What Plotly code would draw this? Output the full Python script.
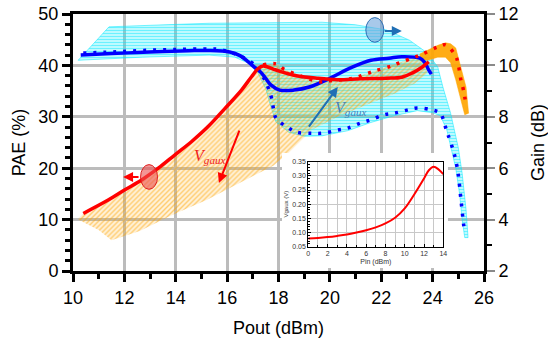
import plotly.graph_objects as go

# ---------------- data ----------------
# Gain fan envelope (Pout dBm, Gain dB) - outline of the family of gain curves
gain_fan_x = [10.2, 10.8, 11.4, 13.0, 15.3, 17.5, 19.7, 21.0, 22.2, 23.1, 23.8, 24.2, 24.4, 24.7, 25.0, 25.15, 25.3, 25.38,
              25.25, 25.15, 25.05, 24.9, 24.75, 24.55, 24.3, 24.0, 23.4, 22.5, 21.6, 20.7, 19.7, 19.0, 18.4, 17.9, 17.7,
              17.5, 17.2, 16.8, 16.3, 15.3, 12.7, 10.2]
gain_fan_y = [10.20, 10.86, 11.50, 11.56, 11.64, 11.66, 11.68, 11.58, 11.38, 10.98, 10.48, 9.94, 9.16, 8.14, 6.80, 5.80, 4.40, 3.30,
              3.30, 4.00, 5.00, 6.00, 6.70, 7.50, 8.04, 8.16, 8.24, 8.04, 7.78, 7.46, 7.26, 7.24, 7.40, 7.80, 8.40,
              9.10, 9.70, 10.10, 10.32, 10.40, 10.32, 10.20]

# Gain at optimum Vgaux (thick blue)
gain_opt_x = [10.3, 11.5, 12.5, 13.5, 14.5, 15.3, 16.1, 16.5, 16.8, 17.05, 17.3, 17.5, 17.7, 18.05, 18.6, 19.2, 20.0, 20.8,
              21.6, 22.3, 22.8, 23.5, 23.7, 23.85, 23.95]
gain_opt_y = [10.40, 10.46, 10.50, 10.54, 10.57, 10.58, 10.52, 10.38, 10.16, 9.94, 9.74, 9.50, 9.24, 9.04, 9.04, 9.16, 9.50, 9.90,
              10.20, 10.28, 10.34, 10.28, 10.10, 9.82, 9.66]

# Gain, fixed bias (blue dotted)
gain_fix_x = [10.4, 11.5, 12.7, 14.0, 15.3, 15.7, 16.2, 16.6, 17.0, 17.4, 17.7, 17.8, 17.9, 18.4, 18.7, 19.3, 19.7, 20.3, 20.7,
              21.2, 21.6, 22.1, 22.5, 23.0, 23.4, 24.0, 24.3, 24.5, 24.6, 24.8, 24.9, 25.0, 25.1, 25.2, 25.25]
gain_fix_y = [10.48, 10.52, 10.58, 10.62, 10.64, 10.62, 10.48, 10.32, 10.08, 9.56, 8.84, 8.34, 7.96, 7.56, 7.40, 7.36, 7.36, 7.48, 7.56,
              7.76, 7.88, 8.08, 8.14, 8.26, 8.34, 8.26, 8.14, 7.60, 7.30, 6.70, 6.32, 5.74, 4.80, 3.86, 3.52]

# PAE fan envelope (Pout dBm, PAE %)
pae_fan_x = [10.2, 10.4, 11.37, 12.02, 12.67, 13.32, 13.97, 14.62, 15.26, 15.91, 16.56, 16.95, 17.21, 17.4, 17.9, 18.2, 19.0,
             19.6, 20.9, 21.8, 22.7, 23.6, 23.8, 23.3, 22.5, 21.5, 20.3, 19.3, 18.4, 17.8, 16.5, 15.2, 13.9, 12.6, 11.5,
             11.0, 10.2]
pae_fan_y = [10.2, 11.2, 13.8, 15.8, 17.7, 20.0, 22.6, 25.2, 28.1, 31.6, 35.2, 37.8, 39.4, 40.1, 40.3, 39.3, 37.7,
             36.8, 37.5, 39.0, 40.5, 42.2, 38.5, 36.5, 34.5, 32.5, 30.0, 27.5, 23.0, 20.5, 17.2, 13.8, 11.0, 7.8, 6.0,
             8.0, 10.0]

# PAE high-power band (dense orange)
pae_band_x = [23.5, 23.8, 24.2, 24.5, 24.7, 24.9, 25.1, 25.3, 25.4, 25.25, 25.1, 24.9, 24.7, 24.5, 24.2, 23.8, 23.5]
pae_band_y = [42.2, 43.0, 43.9, 44.4, 44.2, 43.4, 39.7, 35.8, 30.7, 30.4, 33.3, 37.2, 40.5, 41.6, 41.6, 41.0, 41.0]

# PAE at optimum Vgaux (thick red)
pae_opt_x = [10.4, 11.37, 12.02, 12.67, 13.32, 13.97, 14.62, 15.26, 15.91, 16.56, 16.95, 17.21, 17.4, 17.9, 18.6, 19.5,
             20.3, 21.2, 22.2, 22.8, 23.2, 23.6, 23.85]
pae_opt_y = [11.2, 13.8, 15.8, 17.7, 20.0, 22.6, 25.2, 28.1, 31.6, 35.2, 37.8, 39.4, 39.9, 39.1, 38.1, 37.5,
             37.2, 37.4, 37.5, 37.7, 38.5, 39.7, 40.7]

# PAE, fixed bias (red dotted)
pae_fix_x = [17.4, 17.9, 18.2, 19.0, 19.6, 19.9, 20.9, 21.5, 21.8, 22.4, 22.7, 23.3, 23.6, 24.2, 24.5, 24.9, 25.0, 25.1, 25.2, 25.3]
pae_fix_y = [40.1, 40.3, 39.3, 37.7, 36.8, 37.0, 37.5, 38.5, 39.0, 39.9, 40.5, 41.6, 42.2, 43.6, 44.0, 41.8, 40.1, 37.2, 35.2, 32.3]

# Inset: Vgaux vs Pin
pin_dbm = [0, 1, 2, 3, 4, 5, 6, 7, 8, 9, 10, 11, 12, 12.5, 13.0, 13.5, 14.0]
vgaux_v = [0.079, 0.081, 0.084, 0.088, 0.093, 0.100, 0.108, 0.118, 0.132, 0.152, 0.185, 0.235, 0.291, 0.320, 0.332, 0.323, 0.306]

# ---------------- styling ----------------
CYAN = '#00e8ff'
ORANGE = '#ffa500'
BLUE = '#0000ff'
RED = '#ff0000'
FONT = 'Liberation Sans, Arial, sans-serif'

fig = go.Figure()

fig.add_trace(go.Scatter(x=gain_fan_x, y=gain_fan_y, xaxis='x', yaxis='y', mode='lines', fill='toself',
                         line=dict(width=0.5, color=CYAN), fillcolor='rgba(0,232,255,0.15)',
                         fillpattern=dict(shape='-', size=3, solidity=0.5, fgcolor=CYAN, bgcolor='rgba(0,232,255,0.15)'),
                         hoverinfo='skip'))
fig.add_trace(go.Scatter(x=pae_fan_x, y=pae_fan_y, xaxis='x', yaxis='y2', mode='lines', fill='toself',
                         line=dict(width=0), fillcolor='rgba(255,165,0,0.12)',
                         fillpattern=dict(shape='/', size=3.5, solidity=0.4, fgcolor=ORANGE, bgcolor='rgba(255,165,0,0.14)'),
                         hoverinfo='skip'))
fig.add_trace(go.Scatter(x=pae_band_x, y=pae_band_y, xaxis='x', yaxis='y2', mode='lines', fill='toself',
                         line=dict(width=0.5, color=ORANGE), fillcolor='rgba(255,165,0,0.92)', hoverinfo='skip'))
fig.add_trace(go.Scatter(x=gain_fix_x, y=gain_fix_y, xaxis='x', yaxis='y3', mode='lines',
                         line=dict(color=BLUE, width=3.5, dash='3px,7px'), line_shape='spline'))
fig.add_trace(go.Scatter(x=gain_opt_x, y=gain_opt_y, xaxis='x', yaxis='y3', mode='lines',
                         line=dict(color=BLUE, width=3.5), line_shape='spline'))
fig.add_trace(go.Scatter(x=pae_fix_x, y=pae_fix_y, xaxis='x', yaxis='y4', mode='lines',
                         line=dict(color=RED, width=3.5, dash='3px,7px'), line_shape='spline'))
fig.add_trace(go.Scatter(x=pae_opt_x, y=pae_opt_y, xaxis='x', yaxis='y4', mode='lines',
                         line=dict(color=RED, width=3.5), line_shape='spline'))

# white cover behind the inset
fig.add_trace(go.Scatter(x=[0, 1, 1, 0, 0], y=[0, 0, 1, 1, 0], xaxis='x5', yaxis='y5', mode='lines', fill='toself',
                         fillcolor='white', line=dict(width=0, color='white'), hoverinfo='skip'))
# inset curve
fig.add_trace(go.Scatter(x=pin_dbm, y=vgaux_v, xaxis='x6', yaxis='y6', mode='lines',
                         line=dict(color=RED, width=2), line_shape='spline'))

axis_common = dict(linecolor='black', linewidth=3, ticks='outside', ticklen=8, tickwidth=3, tickcolor='black',
                   zeroline=False, automargin=False, tickfont=dict(size=18, family=FONT, color='black'))

fig.update_layout(
    width=548, height=343, margin=dict(l=73, r=64, t=14, b=72),
    plot_bgcolor='white', paper_bgcolor='white', showlegend=False,
    font=dict(family=FONT, size=18, color='black'),
    xaxis=dict(domain=[0, 1], range=[10, 26], tick0=10, dtick=2, anchor='y', mirror=True,
               showgrid=True, gridcolor='#bcbcbc', gridwidth=2.5,
               minor=dict(dtick=1, ticks='outside', ticklen=5, tickwidth=3, tickcolor='black', showgrid=False),
               title=dict(text='Pout (dBm)', font=dict(size=18)), **axis_common),
    yaxis=dict(domain=[0, 1], range=[2, 12], tick0=2, dtick=2, side='right', anchor='x',
               showgrid=True, gridcolor='#bcbcbc', gridwidth=2.5,
               minor=dict(dtick=1, ticks='outside', ticklen=5, tickwidth=2, tickcolor='black', showgrid=False),
               title=dict(text='Gain (dB)', font=dict(size=18)),
               **{**axis_common, 'tickcolor': '#8a8a8a', 'tickwidth': 2}),
    yaxis2=dict(range=[0, 50], tick0=0, dtick=10, side='left', overlaying='y', anchor='x', showgrid=False,
                minor=dict(dtick=2, ticks='outside', ticklen=5, tickwidth=3, tickcolor='black', showgrid=False),
                title=dict(text='PAE (%)', font=dict(size=18), standoff=9), **axis_common),
    yaxis3=dict(range=[2, 12], overlaying='y', anchor='x', visible=False),
    yaxis4=dict(range=[0, 50], overlaying='y', anchor='x', visible=False),
    xaxis5=dict(domain=[0.5085, 0.912], range=[0, 1], anchor='y5', visible=False),
    yaxis5=dict(domain=[0.012, 0.459], range=[0, 1], anchor='x5', visible=False),
    xaxis6=dict(domain=[0.5725, 0.901], range=[0, 14], dtick=2, anchor='y6', linecolor='black', linewidth=1,
                mirror=True, ticks='inside', ticklen=3, tickcolor='black', zeroline=False, automargin=False,
                showgrid=True, gridcolor='#c8c8c8', gridwidth=1,
                minor=dict(dtick=1, ticks='inside', ticklen=2, showgrid=True, gridcolor='#c8c8c8', gridwidth=1),
                tickfont=dict(size=7, color='#333333'),
                title=dict(text='Pin (dBm)', font=dict(size=7, color='#333333'), standoff=3)),
    yaxis6=dict(domain=[0.0946, 0.4253], range=[0.05, 0.35], dtick=0.05, tickformat='.2f', anchor='x6',
                linecolor='black', linewidth=1, mirror=True, ticks='inside', ticklen=3, tickcolor='black', zeroline=False,
                automargin=False, showgrid=True, gridcolor='#c8c8c8', gridwidth=1,
                minor=dict(dtick=0.01, ticks='inside', ticklen=2, showgrid=False),
                tickfont=dict(size=7, color='#333333'),
                title=dict(text='Vgaux (V)', font=dict(size=6, color='#333333'), standoff=3)),
)

# ellipses marking which axis the curves belong to
fig.add_shape(type='circle', xref='x', yref='y2', x0=12.63, x1=13.29, y0=15.9, y1=20.7,
              fillcolor='rgba(235,80,80,0.6)', line=dict(color='#e02020', width=1))
fig.add_shape(type='circle', xref='x', yref='y', x0=21.4, x1=22.1, y0=10.9, y1=11.86,
              fillcolor='rgba(110,165,220,0.6)', line=dict(color='#2a6db5', width=1))

# arrows
arrows = [
    dict(x=11.95, y=18.3, ax=12.61, ay=18.3, yref='y2', ayref='y2', arrowcolor=RED),
    dict(x=22.8, y=11.34, ax=22.08, ay=11.34, yref='y', ayref='y', arrowcolor='#1f6fb5'),
    dict(x=15.68, y=17.1, ax=16.5, ay=27.6, yref='y2', ayref='y2', arrowcolor=RED),
    dict(x=20.31, y=9.16, ax=19.14, ay=7.56, yref='y', ayref='y', arrowcolor='#1f6fb5'),
]
for a in arrows:
    fig.add_annotation(x=a['x'], y=a['y'], ax=a['ax'], ay=a['ay'], xref='x', yref=a['yref'], axref='x',
                       ayref=a['ayref'], text='', showarrow=True, arrowhead=2, arrowsize=1, arrowwidth=2,
                       arrowcolor=a['arrowcolor'])

label = '<i>V</i><sub><i>gaux</i></sub>'
fig.add_annotation(x=15.33, y=22.2, xref='x', yref='y2', text=label, showarrow=False,
                   font=dict(family='Liberation Serif, DejaVu Serif, serif', size=16, color='#f02020'))
fig.add_annotation(x=20.82, y=8.34, xref='x', yref='y', text=label, showarrow=False,
                   font=dict(family='Liberation Serif, DejaVu Serif, serif', size=16, color='#4a80b8'))

fig.write_html('out.html')
